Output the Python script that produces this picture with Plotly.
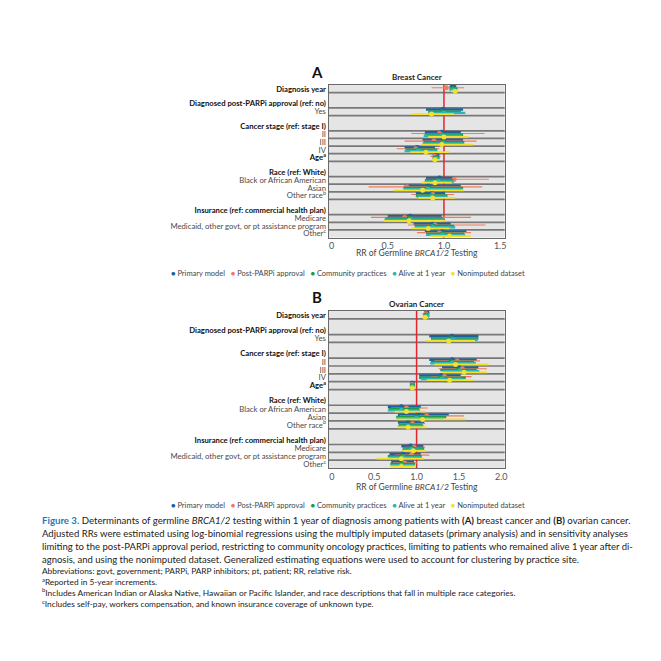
import plotly.graph_objects as go

# row structure (shared by both panels): (label, is_header)
rows = [
    ("<b>Diagnosis year</b>", False),
    ("<b>Diagnosed post-PARPi approval (ref: no)</b>", True),
    ("Yes", False),
    ("<b>Cancer stage (ref: stage I)</b>", True),
    ("II", False),
    ("III", False),
    ("IV", False),
    ("<b>Age<sup>a</sup></b>", False),
    ("<b>Race (ref: White)</b>", True),
    ("Black or African American", False),
    ("Asian", False),
    ("Other race<sup>b</sup>", False),
    ("<b>Insurance (ref: commercial health plan)</b>", True),
    ("Medicare", False),
    ("Medicaid, other govt, or pt assistance program", False),
    ("Other<sup>c</sup>", False),
]

series_names = ["Primary model", "Post-PARPi approval", "Community practices",
                "Alive at 1 year", "Nonimputed dataset"]
series_colors = ["#21609e", "#f27a5e", "#1e9a4e", "#2db6b2", "#f2e22e"]

# (RR, lower CI, upper CI) per data row:
# Diagnosis year, Yes, II, III, IV, Age, Black, Asian, Other race, Medicare, Medicaid, Other
breast_primary = [(1.08, 1.05, 1.11), (0.99, 0.84, 1.17), (0.98, 0.83, 1.15), (0.99, 0.81, 1.17),
                  (0.76, 0.65, 0.92), (0.93, 0.90, 0.96), (0.96, 0.84, 1.09), (0.86, 0.65, 1.15),
                  (0.89, 0.75, 1.01), (0.70, 0.50, 0.98), (0.90, 0.73, 1.06), (0.98, 0.83, 1.20)]
breast_post = [(1.02, 0.89, 1.18), None, (0.96, 0.71, 1.36), (0.91, 0.65, 1.29),
               (0.75, 0.58, 0.96), (0.92, 0.88, 0.97), (1.09, 0.84, 1.40), (0.67, 0.33, 1.34),
               (0.90, 0.71, 1.09), (0.65, 0.35, 1.24), (0.92, 0.68, 1.37), (0.96, 0.76, 1.24)]
breast_community = [(1.08, 1.05, 1.12), (0.98, 0.86, 1.15), (0.99, 0.83, 1.17), (1.00, 0.82, 1.18),
                    (0.77, 0.66, 0.94), (0.93, 0.90, 0.96), (0.94, 0.83, 1.08), (0.87, 0.64, 1.17),
                    (0.88, 0.75, 1.03), (0.69, 0.48, 0.99), (0.91, 0.74, 1.09), (0.99, 0.84, 1.18)]
breast_alive = [(1.08, 1.05, 1.11), (1.00, 0.86, 1.19), (0.98, 0.82, 1.16), (0.99, 0.81, 1.18),
                (0.77, 0.65, 0.94), (0.93, 0.90, 0.96), (0.95, 0.83, 1.09), (0.86, 0.64, 1.16),
                (0.89, 0.76, 1.03), (0.70, 0.47, 1.01), (0.90, 0.74, 1.10), (0.99, 0.84, 1.19)]
breast_nonimp = [(1.10, 1.06, 1.13), (0.89, 0.71, 1.09), (1.00, 0.86, 1.22), (0.98, 0.80, 1.26),
                 (0.84, 0.70, 1.05), (0.92, 0.89, 0.96), (0.92, 0.80, 1.07), (0.81, 0.55, 1.18),
                 (0.90, 0.77, 1.10), (0.69, 0.46, 1.02), (0.86, 0.71, 1.05), (1.05, 0.88, 1.24)]

ovarian_primary = [(1.12, 1.09, 1.15), (1.42, 1.15, 1.73), (1.42, 1.15, 1.71), (1.50, 1.30, 1.73),
                   (1.29, 1.03, 1.52), (0.95, 0.93, 0.98), (0.82, 0.66, 1.05), (1.03, 0.78, 1.38),
                   (0.90, 0.78, 1.09), (0.93, 0.82, 1.08), (0.84, 0.68, 1.05), (0.82, 0.70, 0.97)]
ovarian_post = [(1.11, 1.07, 1.15), None, (1.48, 1.21, 1.75), (1.54, 1.26, 1.83),
                (1.33, 1.17, 1.65), (0.95, 0.92, 0.98), (0.88, 0.70, 1.13), (1.12, 0.80, 1.56),
                (0.95, 0.80, 1.10), (0.97, 0.86, 1.10), (0.94, 0.74, 1.15), (0.86, 0.72, 1.01)]
ovarian_community = [(1.11, 1.08, 1.15), (1.41, 1.17, 1.73), (1.40, 1.17, 1.68), (1.49, 1.28, 1.71),
                     (1.28, 1.03, 1.58), (0.95, 0.93, 0.98), (0.83, 0.67, 1.03), (1.00, 0.76, 1.35),
                     (0.91, 0.79, 1.07), (0.95, 0.84, 1.09), (0.83, 0.66, 1.06), (0.82, 0.69, 0.98)]
ovarian_alive = [(1.12, 1.08, 1.15), (1.43, 1.18, 1.72), (1.42, 1.16, 1.70), (1.51, 1.30, 1.74),
                 (1.30, 1.05, 1.55), (0.95, 0.93, 0.98), (0.82, 0.66, 1.04), (1.00, 0.76, 1.33),
                 (0.90, 0.78, 1.08), (0.94, 0.83, 1.08), (0.84, 0.68, 1.06), (0.82, 0.70, 0.97)]
ovarian_nonimp = [(1.10, 1.07, 1.14), (1.38, 1.11, 1.69), (1.46, 1.21, 1.85), (1.56, 1.30, 1.83),
                  (1.39, 1.12, 1.67), (0.95, 0.92, 0.98), (0.88, 0.74, 1.11), (1.07, 0.75, 1.58),
                  (0.90, 0.78, 1.12), (0.96, 0.83, 1.11), (0.82, 0.53, 1.09), (0.82, 0.69, 0.98)]

breast = [breast_primary, breast_post, breast_community, breast_alive, breast_nonimp]
ovarian = [ovarian_primary, ovarian_post, ovarian_community, ovarian_alive, ovarian_nonimp]

xticks_a = [0, 0.5, 1.0, 1.5]
xticks_b = [0, 0.5, 1.0, 1.5, 2.0]

FONT = "Lato"
PAD = 8                 # default body margin of the html page
W = H = 661 - 2 * PAD


def px(v):
    return (v - PAD) / W


def py(v):
    return 1 - (v - PAD) / H


# row positions: a header takes a blank unit plus its own unit
units, data_units = [], []
u = 0
for label, header in rows:
    if header:
        u += 1
        units.append(u + 0.4)
    else:
        units.append(u + 0.5)
        data_units.append(u)
    u += 1
n_units = u
# bold labels stay black, plain labels are grey
tick_text = [lbl if lbl.startswith("<b>") else f"<span style='color:#4a4a4a'>{lbl}</span>"
             for lbl, hdr in rows]

offsets = [-0.3, -0.15, 0.0, 0.15, 0.3]
thick = [2.6, 1.2, 2.6, 2.4, 1.8]

fig = go.Figure()


def add_panel(data, xa, ya):
    for k, ser in enumerate(data):
        xs, ys, plus, minus = [], [], [], []
        for du, v in zip(data_units, ser):
            if v is None:
                continue
            est, lo, hi = v
            xs.append(est)
            ys.append(du + 0.5 + offsets[k])
            plus.append(hi - est)
            minus.append(est - lo)
        fig.add_trace(go.Scatter(
            x=xs, y=ys, mode="markers", name=series_names[k], showlegend=False,
            xaxis=xa, yaxis=ya,
            marker=dict(color=series_colors[k], size=5),
            error_x=dict(type="data", symmetric=False, array=plus, arrayminus=minus,
                         thickness=thick[k], width=0, color=series_colors[k]),
        ))
    # separator lines around every data row
    bounds = sorted({b for du in data_units for b in (du, du + 1)} - {0, n_units})
    for b in bounds:
        fig.add_shape(type="line", xref=f"{xa} domain", yref=ya, x0=0, x1=1, y0=b, y1=b,
                      line=dict(color="#787878", width=1.7), layer="below")
    fig.add_shape(type="line", xref=xa, yref=f"{ya} domain", x0=1, x1=1, y0=0, y1=1,
                  line=dict(color="#e3262b", width=1.5), layer="below")


add_panel(breast, "x", "y")
add_panel(ovarian, "x2", "y2")

xdom = [px(330), px(507)]
axis_common = dict(showgrid=False, zeroline=False, showline=True, mirror=True,
                   linecolor="#6a6a6a", linewidth=1, ticks="")
yaxis_common = dict(axis_common, range=[n_units, 0], tickvals=units, ticktext=tick_text,
                    tickfont=dict(family=FONT, size=7.7, color="#111"))

fig.update_layout(
    width=W, height=H, margin=dict(l=0, r=0, t=0, b=0),
    paper_bgcolor="white", plot_bgcolor="#e5e5e5",
    font=dict(family=FONT, color="#333"),
    xaxis=dict(axis_common, domain=xdom, anchor="y", range=[-0.027, 1.54],
               tickvals=xticks_a, ticktext=["0", "0.5", "1.0", "1.5"],
               tickfont=dict(family=FONT, size=9, color="#555")),
    yaxis=dict(yaxis_common, domain=[py(237.3), py(84.3)], anchor="x"),
    xaxis2=dict(axis_common, domain=xdom, anchor="y2", range=[-0.04, 2.04],
                tickvals=xticks_b, ticktext=["0", "0.5", "1.0", "1.5", "2.0"],
                tickfont=dict(family=FONT, size=9, color="#555")),
    yaxis2=dict(yaxis_common, domain=[py(468.5), py(311)], anchor="x2"),
)

ann = []
xmid = px(418.5)
for letter, ly, title, ty, axy, legy in [("A", 71, "Breast Cancer", 76, 253, 273),
                                          ("B", 297, "Ovarian Cancer", 304, 487, 506)]:
    ann.append(dict(text=f"<b>{letter}</b>", x=px(318), y=py(ly), font=dict(size=15, color="#111")))
    ann.append(dict(text=f"<b>{title}</b>", x=xmid, y=py(ty), font=dict(size=8, color="#222")))
    ann.append(dict(text="RR of Germline <i>BRCA1/2</i> Testing", x=xmid, y=py(axy),
                    font=dict(size=8.5, color="#444")))
    legend_txt = "&nbsp;&nbsp;&nbsp;".join(
        f"<span style='color:{c}'>●</span> {n}" for n, c in zip(series_names, series_colors))
    ann.append(dict(text=legend_txt, x=px(350), y=py(legy), font=dict(size=7.5, color="#444")))

for a in ann:
    a.update(xref="paper", yref="paper", showarrow=False, xanchor="center", yanchor="middle")

caption = [
    (521, 9.65, "<b><span style='color:#2a77b8'>Figure 3.</span></b> Determinants of germline <i>BRCA1/2</i> "
                "testing within 1 year of diagnosis among patients with <b>(A)</b> breast cancer and <b>(B)</b> ovarian cancer."),
    (534, 9.55, "Adjusted RRs were estimated using log-binomial regressions using the multiply imputed datasets "
                "(primary analysis) and in sensitivity analyses"),
    (547, 9.5, "limiting to the post-PARPi approval period, restricting to community oncology practices, "
               "limiting to patients who remained alive 1 year after di-"),
    (560, 9.5, "agnosis, and using the nonimputed dataset. Generalized estimating equations were used to "
               "account for clustering by practice site."),
    (572, 8.3, "Abbreviations: govt, government; PARPi, PARP inhibitors; pt, patient; RR, relative risk."),
    (582, 8.3, "<sup>a</sup>Reported in 5-year increments."),
    (593, 8.4, "<sup>b</sup>Includes American Indian or Alaska Native, Hawaiian or Pacific Islander, "
               "and race descriptions that fall in multiple race categories."),
    (604, 8.3, "<sup>c</sup>Includes self-pay, workers compensation, and known insurance coverage of unknown type."),
]
for cy, size, txt in caption:
    ann.append(dict(text=txt, x=px(40), y=py(cy), xref="paper", yref="paper", showarrow=False,
                    xanchor="left", yanchor="middle", font=dict(size=size, color="#222")))

fig.update_layout(annotations=ann)
fig.write_html("out.html")
